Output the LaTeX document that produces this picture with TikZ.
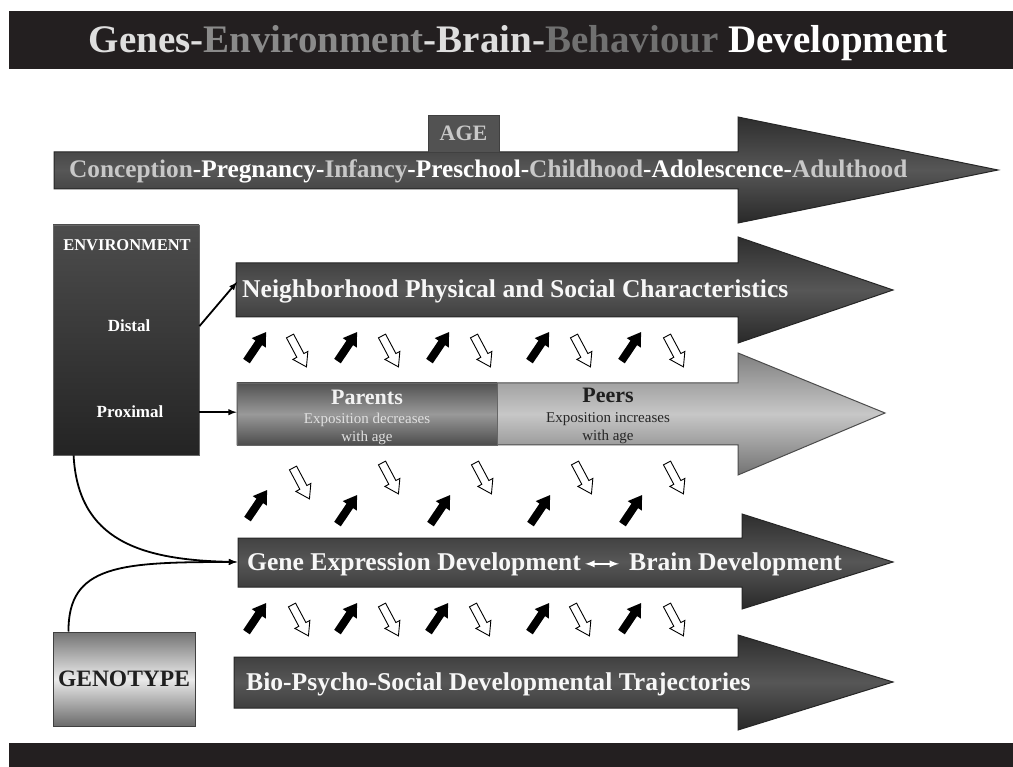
\documentclass[tikz,border=0pt]{standalone}
\usepackage{fontspec}
\setmainfont{Liberation Serif}
\usepackage{tikz}
\definecolor{barre}{RGB}{35,31,32}
\definecolor{gris1}{RGB}{222,222,222}
\definecolor{gris2}{RGB}{138,138,138}
\definecolor{gris3}{RGB}{112,112,112}
\definecolor{agegris}{RGB}{200,200,200}

\begin{document}
\begin{tikzpicture}[x=1pt,y=-1pt,
  every node/.style={inner sep=0pt},
  bigarrow/.style={draw=black!85,line width=1pt,top color=black!82,bottom color=black!84,middle color=black!66},
  peerarrow/.style={draw=black!70,line width=1pt,top color=black!50,bottom color=black!55,middle color=black!22},
  boxtxt/.style={font=\bfseries\fontsize{25.6}{28}\selectfont,text=black!3,anchor=base west},
  smalltxt/.style={font=\fontsize{15}{18}\selectfont,anchor=base},
  envtxt/.style={font=\bfseries\fontsize{17}{20}\selectfont,text=white,anchor=base},
  envbox/.style={draw=black!60,line width=0.8pt,top color=black!70,bottom color=black!86,minimum width=146pt,minimum height=230pt},
  genobox/.style={draw=black!75,line width=1pt,top color=black!55,bottom color=black!58,middle color=black!8,minimum width=142pt,minimum height=94pt},
  conn/.style={line width=1.8pt,->,>=latex},
  flecheup/.style={fill=black,rotate=56},
  flechedown/.style={draw=black,fill=white,line width=0.9pt,rotate=-62},
  fleche/.pic={\path[pic actions] (-17,-4) -- (5,-4) -- (5,-8.5) -- (18,0) -- (5,8.5) -- (5,4) -- (-17,4) -- cycle;}]
\useasboundingbox[fill=white] (0,0) rectangle (1013,767);

% title bar
\fill[barre] (9,11) rectangle (1013,69);
\node[font=\bfseries\fontsize{39}{42}\selectfont,anchor=base] (titre) at (518,53)
  {\textcolor{gris1}{Genes-}\textcolor{gris2}{Environment}\textcolor{gris1}{-Brain-}\textcolor{gris3}{Behaviour} \textcolor{white}{Development}};

% age
\draw[bigarrow] (54,152) -- (738,152) -- (738,117) -- (998,170) -- (738,223) -- (738,189) -- (54,189) -- cycle;
\node[draw=black!75,line width=0.8pt,fill=black!68,minimum width=71pt,minimum height=37pt,
  font=\bfseries\fontsize{22}{24}\selectfont,text=agegris] (age) at (463.5,133.5) {AGE};
\node[boxtxt,font=\bfseries\fontsize{25.3}{28}\selectfont] (ages) at (69,178)
  {\textcolor{agegris}{Conception}\textcolor{white}{-Pregnancy-}\textcolor{agegris}{Infancy}\textcolor{white}{-Preschool-}\textcolor{agegris}{Childhood}\textcolor{white}{-Adolescence-}\textcolor{agegris}{Adulthood}};

% arrows of the levels
\draw[bigarrow] (236,263) -- (738,263) -- (738,237) -- (893,290) -- (738,343) -- (738,317) -- (236,317) -- cycle;
\draw[peerarrow] (237,383) -- (738,383) -- (738,353) -- (885,413) -- (738,475) -- (738,445) -- (237,445) -- cycle;
\node[draw=black!60,line width=0.8pt,top color=black!68,bottom color=black!70,middle color=black!40,
  minimum width=260pt,minimum height=62pt] (parents) at (367,414) {};
\draw[bigarrow] (238,538) -- (742,538) -- (742,514) -- (893,562) -- (742,609) -- (742,587) -- (238,587) -- cycle;
\draw[bigarrow] (234,657) -- (738,657) -- (738,635) -- (893,682) -- (738,730) -- (738,708) -- (234,708) -- cycle;

\node[boxtxt] (neigh) at (242,298) {Neighborhood Physical and Social Characteristics};
\node[font=\bfseries\fontsize{22}{24}\selectfont,text=black!5,anchor=base] (parentstxt) at (367,405) {Parents};
\node[smalltxt,text=black!12] (dec1) at (367,424) {Exposition decreases};
\node[smalltxt,text=black!12] (dec2) at (367,442) {with age};
\node[font=\bfseries\fontsize{22}{24}\selectfont,text=black!88,anchor=base] (peers) at (608,403) {Peers};
\node[smalltxt,text=black!85] (inc1) at (608,423) {Exposition increases};
\node[smalltxt,text=black!85] (inc2) at (608,441) {with age};
\node[boxtxt] (geneexp) at (247,570) {Gene Expression Development};
\node[boxtxt] (brain) at (629,570) {Brain Development};
\node[boxtxt] (bio) at (246,690) {Bio-Psycho-Social Developmental Trajectories};
\draw[white,line width=2.2pt,<->,>=latex] ([xshift=4pt]geneexp.east) -- ([xshift=-10pt]brain.west);

% environment and genotype
\node[envbox] (env) at (126,340) {};
\node[envtxt,font=\bfseries\fontsize{16.5}{20}\selectfont] (envtitre) at (127,251) {ENVIRONMENT};
\node[envtxt] (distal) at (129,332) {Distal};
\node[envtxt] (proximal) at (130,418) {Proximal};
\node[genobox,font=\bfseries\fontsize{23.5}{26}\selectfont,text=black!88] (geno) at (124,679) {GENOTYPE};

\coordinate (neighin) at (237,282);
\coordinate (genein) at (237,562);
\draw[conn] (distal.east -| env.east) -- (neighin);
\draw[conn] (proximal.east -| env.east) -- (proximal.east -| parents.west);
\draw[conn] ([xshift=21pt]env.south west) .. controls (78,540) and (140,560) .. (genein);
\draw[conn] ([xshift=16pt]geno.north west) .. controls (68,565) and (120,562) .. (genein);

% small arrows
\foreach \x in {256,347,439,539,631} \pic[flecheup] at (\x,347) {fleche};
\foreach \x in {298,390,482,582,675} \pic[flechedown] at (\x,351) {fleche};
\foreach \x/\y in {257/505,347/510,440/510,540/510,632/510} \pic[flecheup] at (\x,\y) {fleche};
\foreach \x/\y in {301/483,390/478,483/478,583/478,675/478} \pic[flechedown] at (\x,\y) {fleche};
\foreach \x in {256,347,438,539,631} \pic[flecheup] at (\x,618) {fleche};
\foreach \x in {300,390,481,581,675} \pic[flechedown] at (\x,620) {fleche};

% bottom bar
\fill[barre] (9,743) rectangle (1013,767);
\end{tikzpicture}
\end{document}
